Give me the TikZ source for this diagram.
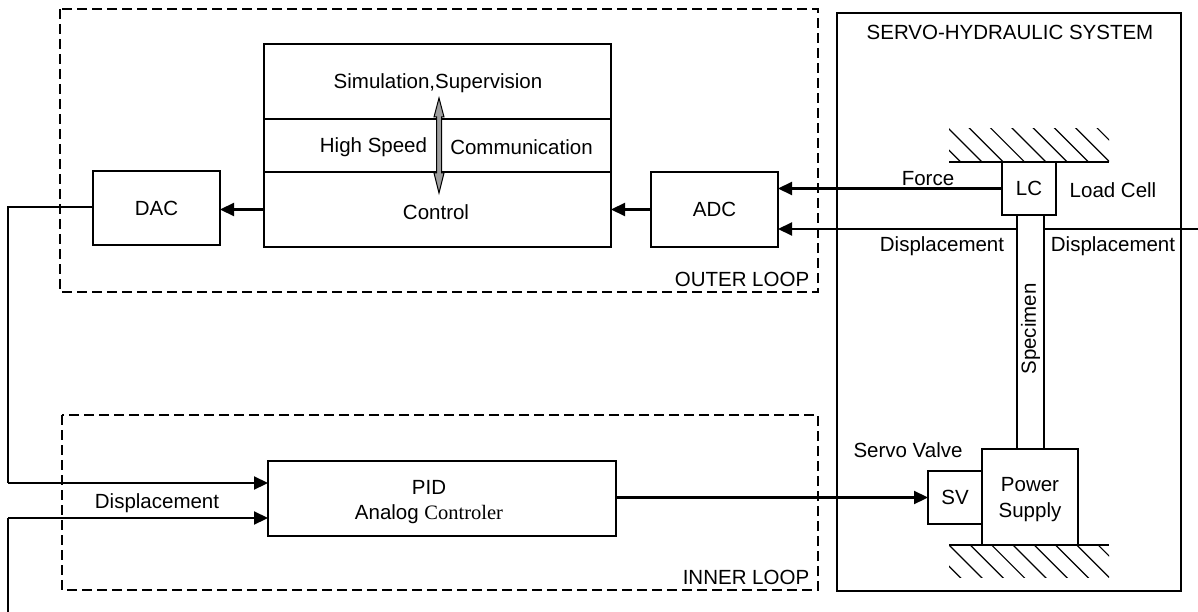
\documentclass[tikz,border=0pt]{standalone}
\usepackage{fontspec}
\setmainfont{Liberation Sans}
\newfontfamily\tnr{Liberation Serif}
\usetikzlibrary{arrows.meta,positioning,calc}
\begin{document}
\begin{tikzpicture}[x=1pt,y=-1pt,
  font=\fontsize{20.5}{24}\selectfont,
  blk/.style={draw,line width=1.5pt,rectangle,inner sep=0pt,outer sep=0pt,anchor=center},
  lbl/.style={inner sep=0pt,outer sep=0pt,anchor=center},
  arr/.style={line width=2.2pt,-{Triangle[length=14pt,width=13pt]}},
  wire/.style={line width=2.2pt},
  loopbox/.style={line width=2.6pt,dash pattern=on 10pt off 5pt},
  hatch/.style={line width=1.2pt}]
\useasboundingbox (0,0) rectangle (1198,612);

% dashed loop boxes and system frame
\draw[loopbox] (60,9) rectangle (818,292);
\draw[loopbox] (62,415) rectangle (818,590);
\draw[line width=2.2pt] (837,13) rectangle (1181,591);
\node[lbl] (shs) at (1010,32) {SERVO-HYDRAULIC SYSTEM};
\node[lbl] (outl) at (742,279) {OUTER LOOP};
\node[lbl] (innl) at (746,577) {INNER LOOP};

% main control stack
\node[blk,minimum width=347pt,minimum height=75pt] (sim) at (437.5,81.5) {};
\node[blk,minimum width=347pt,minimum height=53pt] (hsc) at (437.5,145.5) {};
\node[blk,minimum width=347pt,minimum height=75pt] (ctl) at (437.5,209.5) {};
\node[lbl] (simt) at (438,83) {Simulation,Supervision};
\node[lbl] (hst) at (373.5,147) {High Speed};
\node[lbl] (comt) at (521.5,147) {Communication};
\node[lbl] (ctlt) at (436,212) {Control};
\draw[line width=1pt,fill=black!38]
  (439,98) -- (444,117) -- (441.5,117) -- (441.5,173) -- (444,173) -- (439,193)
  -- (434,173) -- (436.5,173) -- (436.5,117) -- (434,117) -- cycle;

% DAC / ADC
\node[blk,minimum width=127pt,minimum height=74pt] (dac) at (156.5,208) {DAC};
\node[blk,minimum width=127pt,minimum height=75pt] (adc) at (714.5,209.5) {ADC};
\draw[arr] (ctl.west) -- (dac.east |- ctl.west);
\draw[arr] (adc.west) -- (ctl.east |- adc.west);

% PID
\node[blk,minimum width=348pt,minimum height=75pt,align=center] (pid) at (442,498.5) {};
\node[lbl] (pidt) at (429,487) {PID};
\node[lbl] (pidt2) at (429,514) {Analog {\tnr Controler}};

% servo-hydraulic components
\node[blk,minimum width=54pt,minimum height=53pt] (lc) at (1029,188.5) {LC};
\node[blk,minimum width=27pt,minimum height=234pt] (spec) at (1030.5,332) {};
\node[lbl,rotate=90] (spect) at (1030.5,329) {Specimen};
\node[blk,minimum width=96pt,minimum height=96pt,align=center] (ps) at (1030,497) {};
\node[lbl] (pst1) at (1030,485) {Power};
\node[lbl] (pst2) at (1030,512) {Supply};
\node[blk,minimum width=54pt,minimum height=53pt] (sv) at (955,497.5) {SV};
\node[lbl] (lct) at (1113,190) {Load Cell};
\node[lbl] (svt) at (908,450) {Servo Valve};
\node[lbl] (ft) at (928,179) {Force};
\node[lbl] (d1t) at (942,246) {Displacement};
\node[lbl] (d2t) at (1113,246) {Displacement};

% grounds
\draw[line width=1.6pt] (949,162) -- (1109,162);
\begin{scope}
  \clip (949,129) rectangle (1109,162);
  \foreach \k in {-2,...,9}
    \draw[hatch] ({820+\k*21.3+100},100) -- ({820+\k*21.3+200},200);
\end{scope}
\draw[line width=1.6pt] (949,545) -- (1109,545);
\begin{scope}
  \clip (949,545) rectangle (1109,577);
  \foreach \k in {-2,...,9}
    \draw[hatch] ({404+\k*21.3+500},500) -- ({404+\k*21.3+600},600);
\end{scope}

% signals to ADC
\coordinate (dspL) at (1017,229);
\coordinate (dspR) at (1044,229);
\coordinate (edgeR) at (1198,229);
\draw[arr] (lc.west) -- (lc.west -| adc.east);
\draw[arr] (dspL) -- (dspL -| adc.east);
\draw[wire] (edgeR) -- (dspR);

% inner loop wiring
\coordinate (lft1) at (8,207);
\coordinate (lft2) at (8,483);
\coordinate (bot) at (8,612);
\coordinate (lft3) at (8,518);
\draw[wire] (dac.west |- lft1) -- (lft1) -- (lft2);
\draw[arr] (lft2) -- (lft2 -| pid.west);
\draw[wire] (bot) -- (lft3);
\draw[arr] (lft3) -- (lft3 -| pid.west);
\node[lbl] (dpt) at (157,503) {Displacement};
\draw[arr] (pid.east |- sv.west) -- (sv.west);
\end{tikzpicture}
\end{document}
